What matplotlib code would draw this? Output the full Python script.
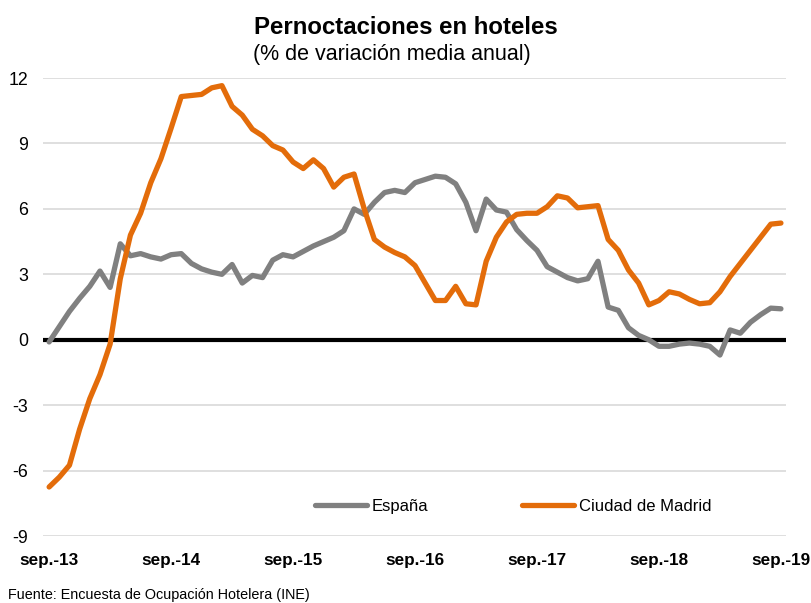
import matplotlib
matplotlib.use("Agg")
import matplotlib.pyplot as plt
import numpy as np

plt.rcParams['font.family'] = ['Liberation Sans', 'DejaVu Sans']
plt.rcParams['axes.unicode_minus'] = False

tick_labels = ["sep.-13", "sep.-14", "sep.-15", "sep.-16", "sep.-17", "sep.-18", "sep.-19"]
espana = [-0.1, 0.6, 1.3, 1.9, 2.45, 3.15, 2.4, 4.4, 3.85, 3.95, 3.8, 3.7, 3.9,
          3.95, 3.5, 3.25, 3.1, 3.0, 3.45, 2.6, 2.95, 2.85, 3.65, 3.9, 3.8,
          4.05, 4.3, 4.5, 4.7, 5.0, 6.0, 5.75, 6.3, 6.75, 6.85, 6.75, 7.2,
          7.35, 7.5, 7.45, 7.15, 6.3, 5.0, 6.45, 5.95, 5.85, 5.05, 4.55, 4.1,
          3.35, 3.1, 2.85, 2.7, 2.8, 3.6, 1.5, 1.35, 0.55, 0.2, 0.0, -0.3,
          -0.3, -0.2, -0.15, -0.2, -0.3, -0.7, 0.45, 0.3, 0.8, 1.15, 1.45, 1.42]
madrid = [-6.75, -6.3, -5.75, -4.1, -2.7, -1.6, -0.2, 2.8, 4.8, 5.8, 7.2, 8.3, 9.7,
          11.15, 11.2, 11.25, 11.55, 11.65, 10.7, 10.3, 9.65, 9.35, 8.9, 8.7, 8.15,
          7.85, 8.25, 7.85, 7.0, 7.45, 7.6, 6.0, 4.6, 4.25, 4.0, 3.8, 3.4,
          2.6, 1.8, 1.8, 2.45, 1.65, 1.6, 3.6, 4.7, 5.4, 5.75, 5.8, 5.8,
          6.1, 6.6, 6.5, 6.05, 6.1, 6.15, 4.6, 4.1, 3.2, 2.6, 1.6, 1.8,
          2.2, 2.1, 1.85, 1.65, 1.7, 2.2, 2.9, 3.5, 4.1, 4.7, 5.3, 5.35]
yticks = [-9, -6, -3, 0, 3, 6, 9, 12]

x = np.arange(len(espana))

fig = plt.figure(figsize=(8.12, 6.03), dpi=100)
ax = fig.add_axes([0.053, 0.111, 0.915, 0.7596])

for yv in yticks:
    if yv != 0:
        ax.axhline(yv, color='#d9d9d9', lw=1.2, zorder=1)
ax.axhline(0, color='black', lw=3, zorder=2)

ax.plot(x, espana, color='#808080', lw=3.8, solid_joinstyle='round',
        solid_capstyle='round', label='España', zorder=3)
ax.plot(x, madrid, color='#E36C0A', lw=3.8, solid_joinstyle='round',
        solid_capstyle='round', label='Ciudad de Madrid', zorder=4)

ax.set_xlim(-0.6, 72.5)
ax.set_ylim(-9, 12)
ax.set_yticks(yticks)
ax.set_yticklabels([str(v) for v in yticks], fontsize=12.8)
ax.set_xticks(np.arange(0, 73, 12))
ax.set_xticklabels(tick_labels, fontsize=12.3, fontweight='bold')
ax.tick_params(axis='x', length=0, pad=12)
ax.tick_params(axis='y', length=0, pad=10.5)
for s in ax.spines.values():
    s.set_visible(False)

leg = ax.legend(ncol=2, frameon=False, loc='center', bbox_to_anchor=(0.633, 0.065),
                fontsize=12, handlelength=3.1, columnspacing=5.6, handletextpad=0.3)

fig.text(0.5, 0.954, "Pernoctaciones en hoteles", ha='center', va='center',
         fontsize=17.3, fontweight='bold')
fig.text(0.483, 0.91, "(% de variación media anual)", ha='center', va='center',
         fontsize=15.5)
fig.text(0.01, 0.002, "Fuente: Encuesta de Ocupación Hotelera (INE)", ha='left',
         va='bottom', fontsize=10.4)

fig.savefig("out.png", dpi=100)
